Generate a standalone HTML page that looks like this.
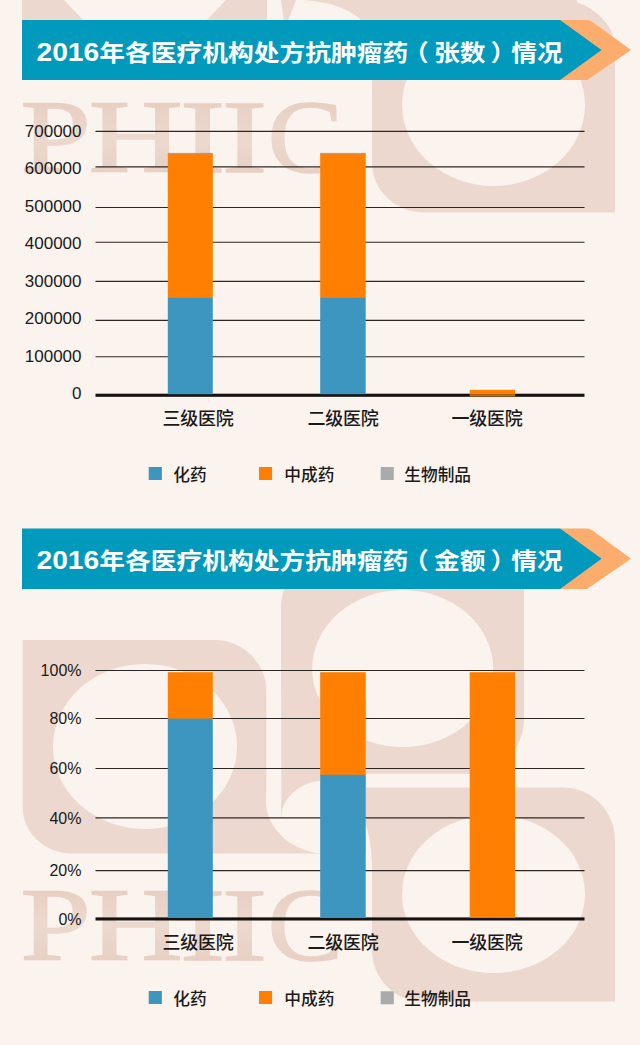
<!DOCTYPE html>
<html lang="zh-CN">
<head>
<meta charset="utf-8">
<title>2016年各医疗机构处方抗肿瘤药情况</title>
<style>
html,body{margin:0;padding:0;}
body{width:640px;height:1045px;background:#faf3ee;overflow:hidden;position:relative;
  font-family:"Liberation Sans","Noto Sans CJK SC",sans-serif;color:#1a1a1a;}
#stage{position:absolute;left:0;top:0;width:640px;height:1045px;overflow:hidden;}
svg{position:absolute;left:0;top:0;}
.t{position:absolute;white-space:nowrap;line-height:1;}
.title{left:36.5px;width:530px;height:60px;line-height:60px;color:#fdfefe;font-weight:bold;
  font-size:25.75px;transform:scaleY(0.9);transform-origin:50% 50%;}
.title .n{font-size:28.2px;}
.title .pl{position:relative;left:-0.2em;}
.title .pr{position:relative;left:0.2em;}
.yl{width:60px;left:21.5px;text-align:right;font-size:17px;height:17px;line-height:17px;}
.xl{width:120px;text-align:center;font-size:18px;font-weight:500;letter-spacing:-0.2px;height:20px;line-height:20px;}
.lg{font-size:16.7px;font-weight:500;height:18px;line-height:18px;}
</style>
</head>
<body>
<div id="stage">
<svg width="640" height="1045" viewBox="0 0 640 1045">
  <!-- ===== watermark background ===== -->
  <g fill="#ecd8ce">
    <!-- M fragments at very top -->
    <polygon points="22,0 64,0 84,21 22,21"/>
    <polygon points="226,0 267,0 267,21 206,21"/>
    <polygon points="281,0 577,0 577,21 284,21"/>
    <!-- top right leaf -->
    <path d="M372,-1 H555 A60,50 0 0 1 615,49 V212.5 H424 A52,50 0 0 1 372,162.5 Z"/>
    <!-- chart2 left leaf -->
    <path d="M22.7,640 H214.5 A52,52 0 0 1 266.5,692 V800 H366 V853.5 H72 A49.3,46 0 0 1 22.7,807.5 Z"/>
    <!-- chart2 centre leaf -->
    <path d="M331,557 H524 V719 A55,54.7 0 0 1 469,773.7 H366 V800 H281 V607 A50,50 0 0 1 331,557 Z"/>
  </g>
  <g fill="#faf3ee">
    <path d="M288,21 L296,0 H304 Q344,3 362,21 Z"/>
    <ellipse cx="493.5" cy="105" rx="91.5" ry="81"/>
    <ellipse cx="145" cy="746.5" rx="92" ry="82.5"/>
    <ellipse cx="402.7" cy="668.5" rx="90.5" ry="78.5"/>
    <path d="M345,747.5 H327 A61.2,53 0 0 0 327,853.5 H345 Z"/>
    <rect x="281.2" y="700" width="85" height="117" fill="#ecd8ce"/>
    <ellipse cx="327.5" cy="817" rx="46" ry="37"/>
    <rect x="266.5" y="690" width="14.7" height="112"/>
  </g>
  <!-- chart2 right leaf -->
  <path fill="#ecd8ce" d="M360,787.5 H563 A52,53 0 0 1 615,840.5 V1001.5 H422 A50,52 0 0 1 372,949.5 V862 Q371,835 362,814 Z"/>
  <ellipse fill="#faf3ee" cx="493.5" cy="894" rx="91.5" ry="79"/>
  <defs>
    <linearGradient id="wg1" gradientUnits="userSpaceOnUse" x1="0" y1="104" x2="0" y2="171.5">
      <stop offset="0" stop-color="#e8cfc3"/><stop offset="0.5" stop-color="#ecd9ce"/><stop offset="1" stop-color="#e8d0c4"/>
    </linearGradient>
    <linearGradient id="wg2" gradientUnits="userSpaceOnUse" x1="0" y1="891" x2="0" y2="959">
      <stop offset="0" stop-color="#e8cfc3"/><stop offset="0.5" stop-color="#ecd9ce"/><stop offset="1" stop-color="#e8d0c4"/>
    </linearGradient>
  </defs>
  <g font-family="'Liberation Serif',serif" font-size="103" font-weight="normal">
    <text y="171.6" fill="url(#wg1)" stroke="url(#wg1)" stroke-width="1.3"><tspan x="20.3" textLength="70.8" lengthAdjust="spacingAndGlyphs">P</tspan><tspan x="88.5" textLength="94.5" lengthAdjust="spacingAndGlyphs">H</tspan><tspan x="179.7" textLength="45.7" lengthAdjust="spacingAndGlyphs">I</tspan><tspan x="221.7" textLength="45.7" lengthAdjust="spacingAndGlyphs">I</tspan><tspan x="267.6" textLength="75.7" lengthAdjust="spacingAndGlyphs">C</tspan></text>
    <text y="960" fill="url(#wg2)" stroke="url(#wg2)" stroke-width="1.3"><tspan x="20.3" textLength="70.8" lengthAdjust="spacingAndGlyphs">P</tspan><tspan x="88.5" textLength="94.5" lengthAdjust="spacingAndGlyphs">H</tspan><tspan x="179.7" textLength="45.7" lengthAdjust="spacingAndGlyphs">I</tspan><tspan x="221.7" textLength="45.7" lengthAdjust="spacingAndGlyphs">I</tspan><tspan x="267.6" textLength="75.7" lengthAdjust="spacingAndGlyphs">C</tspan></text>
  </g>

  <!-- ===== banner 1 ===== -->
  <path d="M560,20 H587 Q590,20 592.5,22 L631,50 L587,80 H560 Z" fill="#fcac6c"/>
  <polygon points="22,20 560,20 601.5,50 560,80 22,80" fill="#0199bc"/>
  <!-- ===== banner 2 ===== -->
  <path d="M560,528.6 H587 Q590,528.6 592.5,530.6 L631,558.8 L587,589 H560 Z" fill="#fcac6c"/>
  <polygon points="22,528.6 560,528.6 601.5,558.8 560,589 22,589" fill="#0199bc"/>

  <!-- ===== chart 1 ===== -->
  <g stroke="#2e2623" stroke-width="1.15">
    <line x1="95.5" y1="131.4" x2="584.5" y2="131.4"/>
    <line x1="95.5" y1="166.9" x2="584.5" y2="166.9"/>
    <line x1="95.5" y1="207.5" x2="584.5" y2="207.5"/>
    <line x1="95.5" y1="242.2" x2="584.5" y2="242.2"/>
    <line x1="95.5" y1="281.4" x2="584.5" y2="281.4"/>
    <line x1="95.5" y1="320.3" x2="584.5" y2="320.3"/>
    <line x1="95.5" y1="356.7" x2="584.5" y2="356.7"/>
  </g>
  <rect x="95.5" y="393.7" width="489" height="3.1" fill="#17120f"/>
  <rect x="167.8" y="152.9" width="45" height="2" fill="#b39a85"/>
  <rect x="167.8" y="154.3" width="45" height="143.7" fill="#ff7f02"/>
  <rect x="167.8" y="297.8" width="45" height="96.4" fill="#3d96c0"/>
  <rect x="320.2" y="152.9" width="45.5" height="2" fill="#b39a85"/>
  <rect x="320.2" y="154.3" width="45.5" height="143.7" fill="#ff7f02"/>
  <rect x="320.2" y="297.8" width="45.5" height="96.4" fill="#3d96c0"/>
  <rect x="469.7" y="389.9" width="45.4" height="4.6" fill="#ff7f02"/>
  <rect x="469.7" y="394.3" width="45.4" height="2.2" fill="#c4680d"/>
  <rect x="148.7" y="467" width="13.2" height="13" fill="#3d96c0"/>
  <rect x="259" y="467" width="13.1" height="13" fill="#ff7f02"/>
  <rect x="380.7" y="467" width="13.1" height="13" fill="#aaaaaa"/>

  <!-- ===== chart 2 ===== -->
  <g stroke="#2e2623" stroke-width="1.15">
    <line x1="95.5" y1="670.5" x2="584.5" y2="670.5"/>
    <line x1="95.5" y1="718.5" x2="584.5" y2="718.5"/>
    <line x1="95.5" y1="768.5" x2="584.5" y2="768.5"/>
    <line x1="95.5" y1="817.9" x2="584.5" y2="817.9"/>
    <line x1="95.5" y1="870.6" x2="584.5" y2="870.6"/>
  </g>
  <rect x="95.5" y="917.4" width="489" height="3.1" fill="#17120f"/>
  <rect x="167.8" y="672.2" width="45" height="46.8" fill="#ff7f02"/>
  <rect x="167.8" y="718.6" width="45" height="199.3" fill="#3d96c0"/>
  <rect x="320.2" y="672.2" width="45.5" height="102.8" fill="#ff7f02"/>
  <rect x="320.2" y="774.8" width="45.5" height="143.1" fill="#3d96c0"/>
  <rect x="469.7" y="672.2" width="45.4" height="245.6" fill="#ff7f02"/>
  <rect x="148.7" y="991" width="13.2" height="13" fill="#3d96c0"/>
  <rect x="259" y="991" width="13.1" height="13" fill="#ff7f02"/>
  <rect x="380.7" y="991.3" width="13.1" height="13" fill="#aaaaaa"/>
</svg>

<!-- titles -->
<div class="t title" style="top:22px;"><span class="n">2016</span>年各医疗机构处方抗肿瘤药<span class="pl">（</span>张数<span class="pr">）</span>情况</div>
<div class="t title" style="top:529.7px;"><span class="n">2016</span>年各医疗机构处方抗肿瘤药<span class="pl">（</span>金额<span class="pr">）</span>情况</div>

<!-- chart 1 y labels -->
<div class="t yl" style="top:123px;">700000</div>
<div class="t yl" style="top:159.7px;">600000</div>
<div class="t yl" style="top:197.6px;">500000</div>
<div class="t yl" style="top:234.7px;">400000</div>
<div class="t yl" style="top:272.6px;">300000</div>
<div class="t yl" style="top:310.4px;">200000</div>
<div class="t yl" style="top:348px;">100000</div>
<div class="t yl" style="top:385px;">0</div>
<!-- chart 1 x labels -->
<div class="t xl" style="left:138px;top:409.3px;">三级医院</div>
<div class="t xl" style="left:283px;top:409.3px;">二级医院</div>
<div class="t xl" style="left:427px;top:409.3px;">一级医院</div>
<!-- chart 1 legend -->
<div class="t lg" style="left:173.3px;top:467.2px;">化药</div>
<div class="t lg" style="left:284.3px;top:467.2px;">中成药</div>
<div class="t lg" style="left:404.3px;top:467.2px;">生物制品</div>

<!-- chart 2 y labels -->
<div class="t yl" style="top:661.8px;font-size:16px;">100%</div>
<div class="t yl" style="top:710.3px;font-size:16px;">80%</div>
<div class="t yl" style="top:760.3px;font-size:16px;">60%</div>
<div class="t yl" style="top:810.3px;font-size:16px;">40%</div>
<div class="t yl" style="top:861.8px;font-size:16px;">20%</div>
<div class="t yl" style="top:910.6px;font-size:16px;">0%</div>
<!-- chart 2 x labels -->
<div class="t xl" style="left:138px;top:933.3px;">三级医院</div>
<div class="t xl" style="left:283px;top:933.3px;">二级医院</div>
<div class="t xl" style="left:427px;top:933.3px;">一级医院</div>
<!-- chart 2 legend -->
<div class="t lg" style="left:173.3px;top:991.2px;">化药</div>
<div class="t lg" style="left:284.3px;top:991.2px;">中成药</div>
<div class="t lg" style="left:404.3px;top:991.2px;">生物制品</div>
</div>
</body>
</html>
